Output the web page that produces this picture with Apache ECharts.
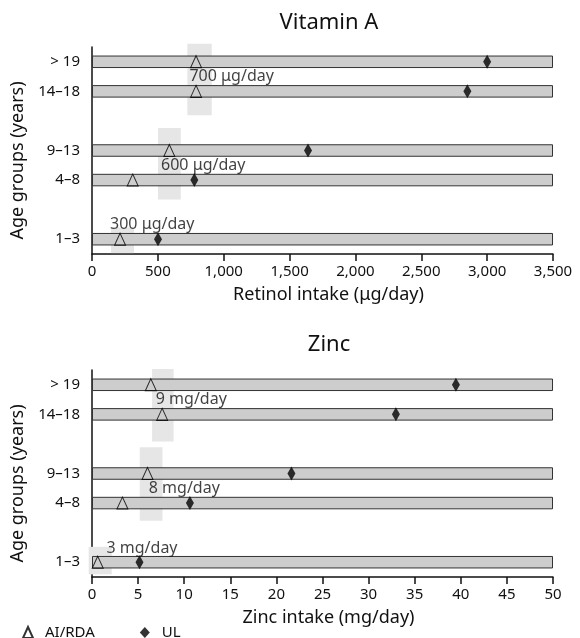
<!DOCTYPE html>
<html>
<head>
<meta charset="utf-8">
<script src="https://cdn.jsdelivr.net/npm/echarts@6/dist/echarts.min.js"></script>
<style>
html,body{margin:0;padding:0;background:#fff;}
#main{width:580px;height:638px;}
</style>
</head>
<body>
<div id="main"></div>
<script>
// 年龄组(从下往上), 空串是空行
var ageGroups = ['1–3', '', '4–8', '9–13', '', '14–18', '> 19'];
var barAges = ['1–3', '4–8', '9–13', '14–18', '> 19'];

// 维生素A
var vitAiRda = [213, 309, 587, 790, 790];
var vitUl = [501, 777, 1640, 2850, 3000];
var vitTicks = [0, 3500, 500];
// 灰色阴影 [x起, x止, y起, y止]
var vitShade = [[724, 909, 4.69, 7.11], [501, 674, 1.84, 4.26], [144, 319, 0.03, 0.9]];
var vitNotes = [[740, 6.0, '700 μg/day'], [524, 3.0, '600 μg/day'], [137, 1.0, '300 μg/day']];

// 锌
var zincAiRda = [0.62, 3.3, 6.02, 7.61, 6.38];
var zincUl = [5.15, 10.62, 21.63, 32.96, 39.47];
var zincTicks = [0, 50, 5];
var zincShade = [[6.52, 8.85, 4.58, 7.03], [5.18, 7.65, 1.90, 4.39], [-0.36, 2.14, 0.09, 1.02]];
var zincNotes = [[6.92, 6.0, '9 mg/day'], [6.16, 3.0, '8 mg/day'], [1.57, 0.97, '3 mg/day']];

var FONT = 'Noto Sans';
var INK = '#111';

var chart = echarts.init(document.getElementById('main'));

function xAxisOf(idx, ticks, name) {
	return {
		type: 'value', gridIndex: idx,
		min: ticks[0], max: ticks[1], interval: ticks[2],
		name: name, nameLocation: 'middle', nameGap: 32,
		nameTextStyle: {fontFamily: FONT, fontSize: 18, color: INK, padding: [0, 0, 0, 12]},
		axisLine: {lineStyle: {color: '#111', width: 1.5}},
		axisTick: {length: 7, lineStyle: {color: '#111', width: 1.5}},
		axisLabel: {fontFamily: FONT, fontSize: 15, color: INK, margin: 10,
			formatter: function (v) { return v.toLocaleString('en-US'); }},
		splitLine: {show: false}
	};
}
function yAxesOf(idx) {
	return [{
		type: 'category', gridIndex: idx, data: ageGroups,
		name: 'Age groups (years)', nameLocation: 'middle', nameGap: 58,
		nameTextStyle: {fontFamily: FONT, fontSize: 18, color: INK, padding: [0, 20, 0, 0]},
		axisLine: {lineStyle: {color: '#111', width: 1.5}},
		axisTick: {length: 7, lineStyle: {color: '#111', width: 1.5}},
		axisLabel: {fontFamily: FONT, fontSize: 15, color: INK, margin: 12}
	}, {
		type: 'value', gridIndex: idx, min: 0, max: 7, interval: 1, show: false
	}];
}

function shadeSeries(idx, list) {
	return {
		type: 'custom', xAxisIndex: idx, yAxisIndex: idx * 2 + 1, z: 1, silent: true,
		data: list,
		renderItem: function (params, api) {
			var p1 = api.coord([api.value(0), api.value(3)]);
			var p2 = api.coord([api.value(1), api.value(2)]);
			return {type: 'rect', shape: {x: p1[0], y: p1[1], width: p2[0] - p1[0], height: p2[1] - p1[1]},
				style: {fill: '#e6e6e6'}};
		}
	};
}
function barSeries(idx, max) {
	return {
		type: 'bar', xAxisIndex: idx, yAxisIndex: idx * 2, z: 2, barWidth: 12.5, silent: true,
		data: ageGroups.map(function (a) { return a ? max : '-'; }),
		itemStyle: {color: '#cdcdcd', borderColor: '#333', borderWidth: 1}
	};
}
function markSeries(idx, name, vals) {
	var tri = name === 'AI/RDA';
	return {
		type: 'scatter', name: name, xAxisIndex: idx, yAxisIndex: idx * 2, z: 5,
		symbol: tri ? 'triangle' : 'diamond',
		symbolSize: tri ? [11, 12] : [8, 14],
		data: vals.map(function (v, i) { return [v, barAges[i]]; }),
		itemStyle: tri ? {color: 'rgba(0,0,0,0)', borderColor: '#000', borderWidth: 1}
			: {color: '#000'}
	};
}
function noteSeries(idx, notes) {
	return {
		type: 'scatter', xAxisIndex: idx, yAxisIndex: idx * 2 + 1, z: 6, silent: true,
		symbolSize: 0,
		data: notes.map(function (n) { return {value: [n[0], n[1]], name: n[2]}; }),
		label: {show: true, position: 'right', distance: 0, formatter: '{b}',
			fontFamily: FONT, fontSize: 16, color: INK}
	};
}

option = {
	animation: false,
	textStyle: {fontFamily: FONT},
	title: [
		{text: 'Vitamin A', left: 329, top: 12, textAlign: 'center', padding: 0,
			textStyle: {fontFamily: FONT, fontSize: 22, fontWeight: 'normal', color: INK}},
		{text: 'Zinc', left: 329, top: 334, textAlign: 'center', padding: 0,
			textStyle: {fontFamily: FONT, fontSize: 22, fontWeight: 'normal', color: INK}}
	],
	legend: {
		left: 22, top: 625, padding: 0, itemWidth: 10, itemHeight: 11, itemGap: 45,
		textStyle: {fontFamily: FONT, fontSize: 15, color: INK, padding: [0, 0, 0, 7]},
		data: ['AI/RDA', 'UL']
	},
	grid: [
		{left: 92, width: 461, top: 47, height: 207},
		{left: 92, width: 461, top: 370, height: 207}
	],
	xAxis: [xAxisOf(0, vitTicks, 'Retinol intake (μg/day)'), xAxisOf(1, zincTicks, 'Zinc intake (mg/day)')],
	yAxis: yAxesOf(0).concat(yAxesOf(1)),
	series: [
		shadeSeries(0, vitShade), barSeries(0, vitTicks[1]),
		markSeries(0, 'AI/RDA', vitAiRda), markSeries(0, 'UL', vitUl), noteSeries(0, vitNotes),
		shadeSeries(1, zincShade), barSeries(1, zincTicks[1]),
		markSeries(1, 'AI/RDA', zincAiRda), markSeries(1, 'UL', zincUl), noteSeries(1, zincNotes)
	]
};
chart.setOption(option);
</script>
</body>
</html>
